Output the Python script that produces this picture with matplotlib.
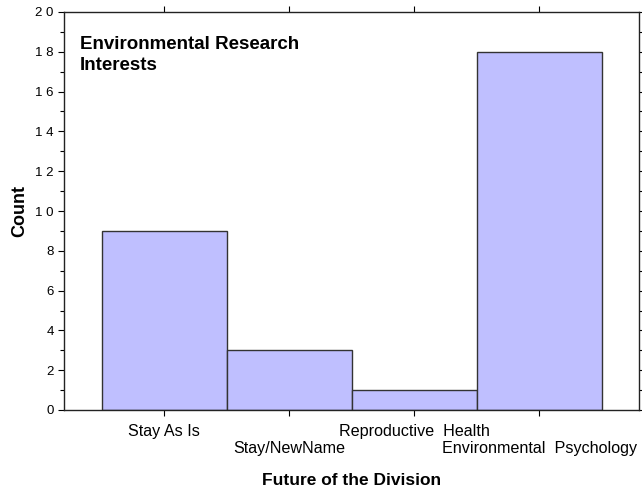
import matplotlib
matplotlib.use("Agg")
import matplotlib.pyplot as plt
import numpy as np

plt.rcParams['font.family'] = ['Liberation Sans', 'DejaVu Sans']

categories = ["Stay As Is", "Stay/NewName", "Reproductive  Health", "Environmental  Psychology"]
counts = [9, 3, 1, 18]

fig = plt.figure(figsize=(6.42, 4.91), dpi=100)
ax = fig.add_axes([64/642, 1-410/491, (639-64)/642, (410-12)/491])

x = np.arange(len(categories))
ax.bar(x, counts, width=1.0, color="#bfbfff", edgecolor="#333333", linewidth=1.0)

ax.set_xlim(-0.804, 3.80)
ax.set_ylim(0, 20)

ax.set_yticks(np.arange(0, 21, 2))
ax.set_yticks(np.arange(1, 20, 2), minor=True)
ax.set_yticklabels([" ".join(str(v)) for v in range(0, 21, 2)], fontsize=9.5)
ax.tick_params(axis='y', which='both', direction='out', right=True, length=4, width=0.8)
ax.tick_params(axis='y', which='minor', length=3)

ax.set_xticks(x)
ax.set_xticklabels([])
ax.tick_params(axis='x', direction='out', top=True, length=4, width=0.8)
for i, lab in enumerate(categories):
    yoff = -0.055 if i % 2 == 0 else -0.097
    ax.text(i, yoff, lab, transform=ax.get_xaxis_transform(), ha='center', va='center',
            fontsize=11.6)

for s in ax.spines.values():
    s.set_linewidth(1.0)
    s.set_color("#222222")

ax.set_xlabel("Future of the Division", fontsize=12.5, fontweight='bold', labelpad=0)
ax.xaxis.set_label_coords(0.5, -0.158)
ax.set_ylabel("Count", fontsize=13, fontweight='bold')
ax.yaxis.set_label_coords(-0.063, 0.5)

ax.text(0.028, 0.94, "Environmental Research\nInterests", transform=ax.transAxes,
        ha='left', va='top', fontsize=13.5, fontweight='bold', linespacing=1.3)

fig.savefig("out.png", dpi=100)
